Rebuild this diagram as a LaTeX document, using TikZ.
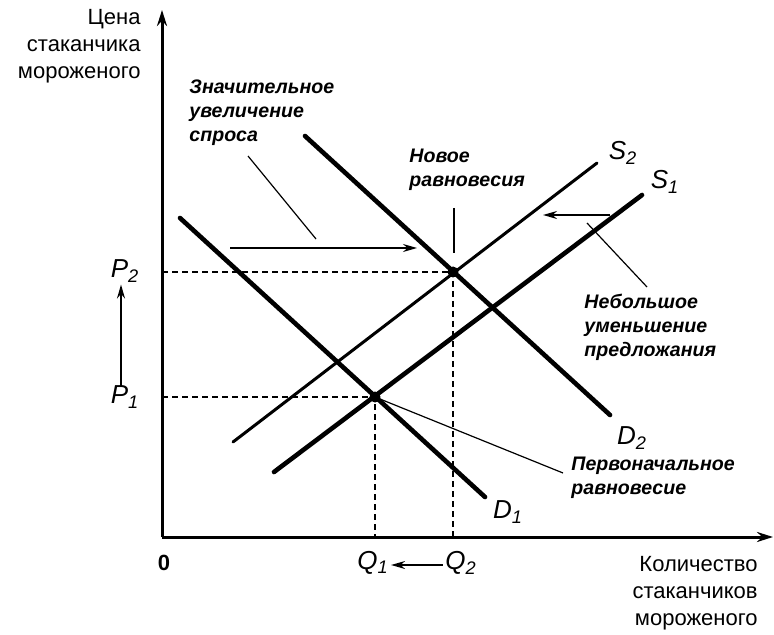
\documentclass[tikz,border=0pt]{standalone}
\usepackage{fontspec}
\setmainfont{Liberation Sans}
\usetikzlibrary{arrows.meta,positioning}

\begin{document}
\begin{tikzpicture}[
  x=0.5pt, y=-0.5pt,
  axis/.style={line width=1.5pt, -{Stealth[length=8pt,width=5pt]}},
  curve/.style={line width=2.3pt, line cap=round},
  newcurve/.style={line width=1.5pt, line cap=round},
  guide/.style={line width=0.7pt, dash pattern=on 3pt off 2pt},
  pointer/.style={line width=0.6pt},
  shiftarrow/.style={line width=0.8pt, -{Stealth[length=7pt,width=4pt]}},
  axlabel/.style={font=\fontsize{11}{13.5}\selectfont, align=right, inner sep=0pt},
  note/.style={font=\fontsize{9.8}{12}\selectfont\bfseries\itshape, align=left, inner sep=0pt},
  curvelabel/.style={font=\fontsize{13}{15}\selectfont\itshape, inner sep=0pt},
  eq/.style={circle, fill, inner sep=0pt, minimum size=5.5pt}
]
  \useasboundingbox (0,0) rectangle (774,635);

  % axes
  \coordinate (o) at (162,537);
  \coordinate (ytop) at (162,10);
  \coordinate (xend) at (773,537);
  \draw[axis] (o) -- (ytop);
  \draw[axis] (o) -- (xend);
  \node[axlabel, anchor=north east] (ylab) at (141,9) {Цена\\стаканчика\\мороженого};
  \node[axlabel, anchor=north east] (xlab) at (758,556) {Количество\\стаканчиков\\мороженого};
  \node[font=\fontsize{11}{13}\selectfont\bfseries] (zero) at (164,563) {0};

  % curve end points
  \coordinate (d1a) at (180,218);  \coordinate (d1b) at (485,497);
  \coordinate (d2a) at (305,136);  \coordinate (d2b) at (610,415);
  \coordinate (s1a) at (274,472);  \coordinate (s1b) at (642,195);
  \coordinate (s2a) at (233,442);  \coordinate (s2b) at (597,163);
  \coordinate (e1) at (375,397);
  \coordinate (e2) at (453,272);

  % guides
  \draw[guide] (e1 -| o) -- (e1) -- (e1 |- o);
  \draw[guide] (e2 -| o) -- (e2) -- (e2 |- o);

  % demand and supply
  \draw[curve] (d1a) -- (d1b);
  \draw[curve] (d2a) -- (d2b);
  \draw[curve] (s1a) -- (s1b);
  \draw[newcurve] (s2a) -- (s2b);
  \node[eq] (eqold) at (e1) {};
  \node[eq] (eqnew) at (e2) {};

  \node[curvelabel] (d1lab) at (508,512) {D\textsubscript{1}};
  \node[curvelabel] (d2lab) at (632,438) {D\textsubscript{2}};
  \node[curvelabel] (s1lab) at (665,182) {S\textsubscript{1}};
  \node[curvelabel] (s2lab) at (623,153) {S\textsubscript{2}};

  % prices and quantities
  \node[curvelabel] (p2lab) at (125,271) {P\textsubscript{2}};
  \node[curvelabel] (p1lab) at (125,397) {P\textsubscript{1}};
  \node[curvelabel] (q1lab) at (373,563) {Q\textsubscript{1}};
  \node[curvelabel] (q2lab) at (461,563) {Q\textsubscript{2}};
  \draw[shiftarrow] ([xshift=-2pt]p1lab.north) -- ([xshift=-2pt,yshift=-1pt]p2lab.south);
  \draw[shiftarrow] ([xshift=-1pt,yshift=-1pt]q2lab.west) -- ([xshift=1pt,yshift=-1pt]q1lab.east);

  % notes
  \node[note, anchor=north west] (demnote) at (189,79) {Значительное\\увеличение\\спроса};
  \coordinate (dema) at (248,156);  \coordinate (demb) at (316,239);
  \draw[pointer] (dema) -- (demb);
  \coordinate (dsa) at (230,248);  \coordinate (dsb) at (417,248);
  \draw[shiftarrow] (dsa) -- (dsb);

  \node[note, anchor=north west] (newnote) at (409,149) {Новое\\равновесия};
  \coordinate (nwa) at (454,208);  \coordinate (nwb) at (454,253);
  \draw[pointer] (nwa) -- (nwb);

  \node[note, anchor=north west] (supnote) at (584,294) {Небольшое\\уменьшение\\предложания};
  \coordinate (ssa) at (610,215);  \coordinate (ssb) at (543,215);
  \draw[shiftarrow] (ssa) -- (ssb);
  \coordinate (spa) at (647,287);  \coordinate (spb) at (587,223);
  \draw[pointer] (spa) -- (spb);

  \node[note, anchor=north west] (oldnote) at (571,457) {Первоначальное\\равновесие};
  \coordinate (opa) at (563,473);
  \draw[pointer] (opa) -- (eqold);
\end{tikzpicture}
\end{document}
